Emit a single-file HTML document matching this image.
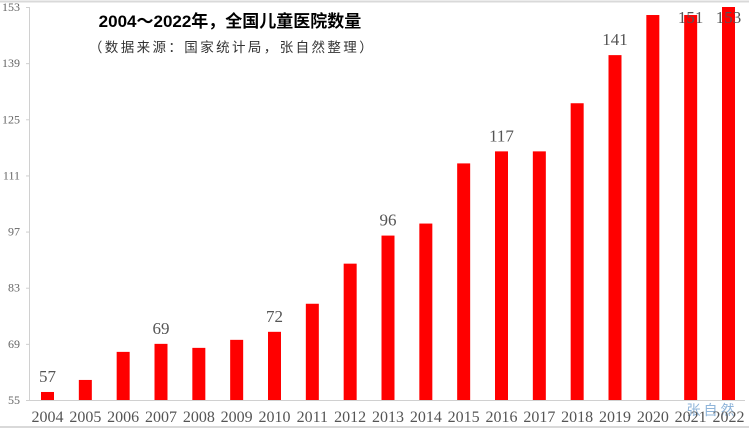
<!DOCTYPE html>
<html><head><meta charset="utf-8"><style>
body{margin:0;background:#fff}
svg{display:block}
</style></head><body>
<svg id="c" width="749" height="428" xmlns="http://www.w3.org/2000/svg">
<rect x="0" y="0" width="749" height="428" fill="#fff"/>
<line x1="0" y1="1.5" x2="749" y2="1.5" stroke="#d9d9d9" stroke-width="2"/>
<line x1="0" y1="427" x2="749" y2="427" stroke="#d9d9d9" stroke-width="2"/>
<text x="230" y="27" font-family="'Liberation Sans','Noto Sans CJK SC',sans-serif" font-size="17" font-weight="bold" text-anchor="middle" fill="#000">2004～2022年，全国儿童医院数量</text>
<text x="232" y="52" font-family="'Liberation Sans','Noto Sans CJK SC',sans-serif" font-size="13.5" letter-spacing="2.4" text-anchor="middle" fill="#333">（数据来源：国家统计局，张自然整理）</text>
<text x="712" y="415" font-family="'Liberation Sans','Noto Sans CJK SC',sans-serif" font-size="14" letter-spacing="3" text-anchor="middle" fill="#8fb4d9">张自然</text>
<g id="g"></g>
</svg>
<script>
const years=["2004","2005","2006","2007","2008","2009","2010","2011","2012","2013","2014","2015","2016","2017","2018","2019","2020","2021","2022"];
const counts=[57,60,67,69,68,70,72,79,89,96,99,114,117,117,129,141,151,151,153];
const labeled=[57,69,72,96,117,141,151,153];
const labeledYears=["2004","2007","2010","2013","2016","2019","2021","2022"];
const yTicks=[55,69,83,97,111,125,139,153];
const NS="http://www.w3.org/2000/svg";
const g=document.getElementById('g');
const y0=400,y1=7,vmin=55,vmax=153;
const ys=v=>y0-(v-vmin)/(vmax-vmin)*(y0-y1);
const xs=i=>47.5+i*(728.5-47.5)/(years.length-1);
function mk(t,a){const e=document.createElementNS(NS,t);for(const k in a)e.setAttribute(k,a[k]);g.appendChild(e);return e;}
const ax=mk('line',{x1:29.5,y1:y1,x2:29.5,y2:y0,stroke:'#d0d0d0'});


const bx=mk('line',{x1:29,y1:y0+0.5,x2:745,y2:y0+0.5,stroke:'#d0d0d0'});


yTicks.forEach(v=>{
 const tk=mk('line',{x1:26,y1:ys(v)+0.5,x2:30,y2:ys(v)+0.5,stroke:'#d0d0d0'});
 
 
 const t=mk('text',{x:20,y:ys(v)+4,'text-anchor':'end','font-family':'Liberation Serif,serif','font-size':12,fill:'#666'});
 t.textContent=v;
 
 
});
years.forEach((yr,i)=>{
 const v=counts[i];
 const r=mk('rect',{x:xs(i)-6.5,y:ys(v),width:13,height:y0-ys(v),fill:'#ff0000'});
 
 
 const t=mk('text',{x:xs(i),y:422,'text-anchor':'middle','font-family':'Liberation Serif,serif','font-size':16,fill:'#555'});
 t.textContent=yr;
 
 
 const li=labeledYears.indexOf(yr);
 if(li>=0){
  const l=mk('text',{x:xs(i),y:Math.max(23,ys(v)-10),'text-anchor':'middle','font-family':'Liberation Serif,serif','font-size':17,fill:'#555'});
  l.textContent=v;
  
  
 }
});
</script>
</body></html>
